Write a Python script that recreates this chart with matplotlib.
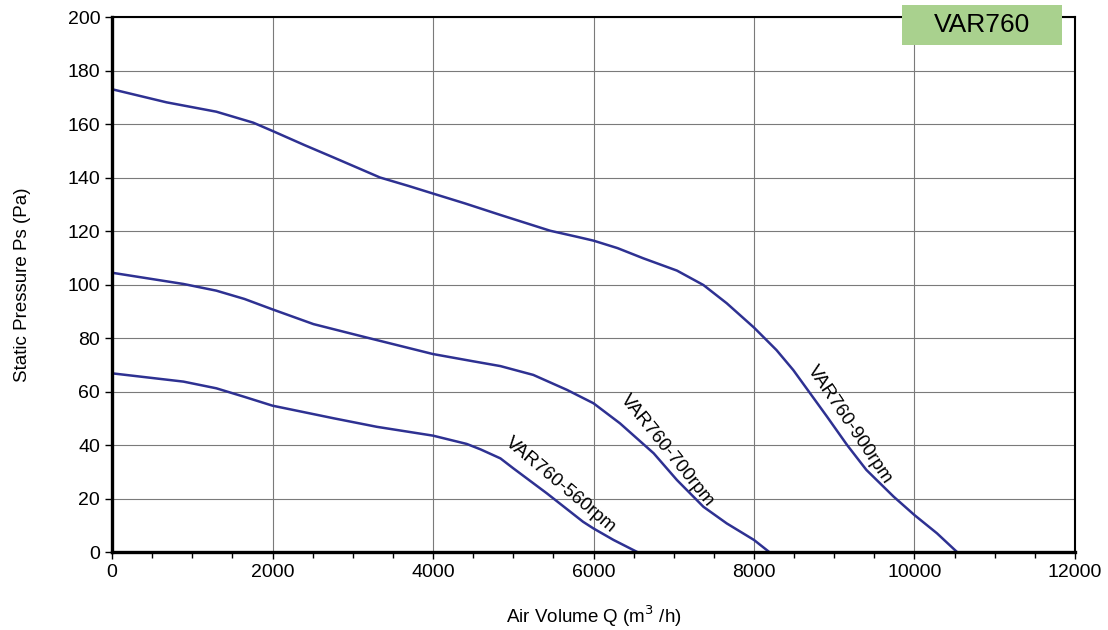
import matplotlib.pyplot as plt
from matplotlib.patches import Rectangle
from matplotlib.ticker import MultipleLocator

plt.rcParams['font.family'] = ['Liberation Sans', 'DejaVu Sans']

# fan curves (Q in m3/h, Ps in Pa)
q_900 = [0, 680, 1300, 1760, 2000, 2400, 2760, 3000, 3340, 3700, 4000, 4400, 4840, 5460,
         5800, 6000, 6300, 6620, 7040, 7370, 7660, 8000, 8280, 8490, 8700, 8910, 9160,
         9400, 9740, 10000, 10280, 10530]
ps_900 = [173, 168.1, 164.6, 160.5, 157.4, 152.1, 147.5, 144.4, 140, 136.8, 134, 130.3,
          126, 120.1, 117.8, 116.4, 113.6, 109.8, 105.2, 99.8, 93, 83.9, 75.5, 68, 59.3,
          50.6, 40, 30.7, 20.7, 13.8, 7, 0]

q_700 = [0, 890, 1300, 1650, 2000, 2510, 3170, 4000, 4500, 4840, 5250, 5670, 6000, 6330,
         6750, 7040, 7370, 7660, 8000, 8190]
ps_700 = [104.4, 100.2, 97.7, 94.6, 90.7, 85.2, 80.2, 74, 71.3, 69.5, 66.2, 60.6, 55.6,
          48.1, 36.9, 26.9, 16.9, 10.7, 4.5, 0]

q_560 = [0, 890, 1300, 1650, 2000, 2760, 3300, 4000, 4420, 4590, 4840, 5000, 5420, 5870,
         6000, 6250, 6545]
ps_560 = [66.8, 63.7, 61.2, 58, 54.7, 50, 46.8, 43.5, 40.4, 38.4, 35, 31.3, 21.9, 11.3,
          8.8, 4.5, 0]

line_color = '#2e3192'

fig = plt.figure(figsize=(11.08, 6.30), dpi=100)
ax = fig.add_axes([0.1011, 0.1238, 0.8691, 0.8492])

ax.plot(q_900, ps_900, color=line_color, lw=1.8)
ax.plot(q_700, ps_700, color=line_color, lw=1.8)
ax.plot(q_560, ps_560, color=line_color, lw=1.8)

ax.set_xlim(0, 12000)
ax.set_ylim(0, 200)
ax.xaxis.set_major_locator(MultipleLocator(2000))
ax.xaxis.set_minor_locator(MultipleLocator(500))
ax.yaxis.set_major_locator(MultipleLocator(20))
ax.grid(True, which='major', color='#7a7a7a', lw=0.8)
ax.set_axisbelow(True)

for side in ['top', 'right']:
    ax.spines[side].set_linewidth(1.5)
for side in ['left', 'bottom']:
    ax.spines[side].set_linewidth(2.4)

ax.tick_params(axis='both', which='major', direction='out', length=5, labelsize=14, width=1)
ax.tick_params(axis='x', which='minor', direction='out', length=4, width=1)

ax.set_xlabel('Air Volume Q (m$^3$ /h)', fontsize=13.5, labelpad=16)
ax.set_ylabel('Static Pressure Ps (Pa)', fontsize=13.5, labelpad=26)

# curve labels
ax.text(5595, 25, 'VAR760-560rpm', fontsize=13.5, rotation=-40, ha='center', va='center',
        rotation_mode='anchor')
ax.text(6916, 37.8, 'VAR760-700rpm', fontsize=13.5, rotation=-51, ha='center', va='center',
        rotation_mode='anchor')
ax.text(9196, 47.5, 'VAR760-900rpm', fontsize=13.5, rotation=-56, ha='center', va='center',
        rotation_mode='anchor')

# title box
fig.patches.append(Rectangle((0.8141, 0.9286), 0.1444, 0.0635, transform=fig.transFigure,
                             fc='#a9d18e', ec='none', zorder=5))
fig.text(0.8863, 0.9603, 'VAR760', fontsize=19, ha='center', va='center', zorder=6)

fig.savefig('out.png', dpi=100)
